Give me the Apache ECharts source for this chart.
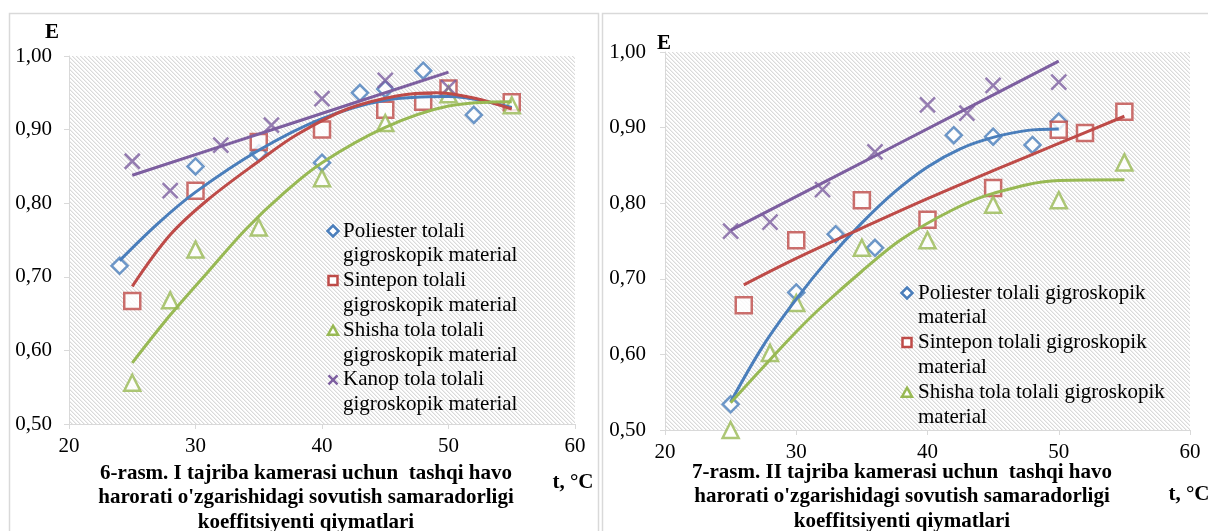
<!DOCTYPE html>
<html>
<head>
<meta charset="utf-8">
<script src="https://cdn.jsdelivr.net/npm/echarts@6/dist/echarts.min.js"></script>
<style>
  html, body { margin: 0; padding: 0; background: #ffffff; }
  #chart { width: 1208px; height: 531px; }
</style>
</head>
<body>
<div id="chart"></div>
<script>
// ---- Axis ticks ----
const xTicks = [20, 30, 40, 50, 60];
const yTicks = [0.5, 0.6, 0.7, 0.8, 0.9, 1.0];

// ---- Series names ----
const namePoliester = 'Poliester tolali gigroskopik material';
const nameSintepon = 'Sintepon tolali gigroskopik material';
const nameShisha = 'Shisha tola tolali gigroskopik material';
const nameKanop = 'Kanop tola tolali gigroskopik material';

// ---- Chamber I: measured points (t, °C / E) ----
const tPoliesterI = [24, 30, 35, 40, 43, 45, 48, 52];
const ePoliesterI = [0.715, 0.850, 0.868, 0.855, 0.950, 0.955, 0.980, 0.920];
const tSinteponI = [25, 30, 35, 40, 45, 48, 50, 55];
const eSinteponI = [0.667, 0.817, 0.883, 0.900, 0.927, 0.938, 0.956, 0.937];
const tShishaI = [25, 28, 30, 35, 40, 45, 50, 55];
const eShishaI = [0.556, 0.668, 0.737, 0.767, 0.834, 0.909, 0.948, 0.933];
const tKanopI = [25, 28, 32, 36, 40, 45, 50];
const eKanopI = [0.857, 0.817, 0.879, 0.906, 0.942, 0.967, 0.957];

// ---- Chamber I: trend curves ----
const tTrendPoliesterI = [24, 27, 30, 35, 40, 45, 50, 55];
const eTrendPoliesterI = [0.722, 0.772, 0.815, 0.872, 0.915, 0.940, 0.945, 0.930];
const tTrendSinteponI = [25, 28, 31, 35, 38, 42, 46, 49, 52, 55];
const eTrendSinteponI = [0.687, 0.757, 0.805, 0.857, 0.893, 0.928, 0.946, 0.950, 0.943, 0.928];
const tTrendShishaI = [25, 28, 31, 34, 37, 40, 45, 50, 55];
const eTrendShishaI = [0.583, 0.648, 0.707, 0.765, 0.814, 0.855, 0.903, 0.932, 0.938];
const tTrendKanopI = [25, 37.5, 50];
const eTrendKanopI = [0.838, 0.908, 0.978];

// ---- Chamber II: measured points ----
const tPoliesterII = [25, 30, 33, 36, 42, 45, 48, 50];
const ePoliesterII = [0.534, 0.682, 0.759, 0.741, 0.890, 0.888, 0.877, 0.908];
const tSinteponII = [26, 30, 35, 40, 45, 50, 52, 55];
const eSinteponII = [0.665, 0.751, 0.804, 0.778, 0.820, 0.897, 0.893, 0.921];
const tShishaII = [25, 28, 30, 35, 40, 45, 50, 55];
const eShishaII = [0.500, 0.602, 0.668, 0.741, 0.751, 0.798, 0.804, 0.854];
const tKanopII = [25, 28, 32, 36, 40, 43, 45, 50];
const eKanopII = [0.763, 0.775, 0.818, 0.868, 0.930, 0.919, 0.956, 0.960];

// ---- Chamber II: trend curves ----
const tTrendPoliesterII = [25, 27.5, 30, 32.5, 35, 37.5, 40, 42.5, 45, 47.5, 50];
const eTrendPoliesterII = [0.537, 0.612, 0.673, 0.727, 0.774, 0.815, 0.848, 0.872, 0.887, 0.896, 0.898];
const tTrendSinteponII = [26, 30, 35, 40, 45, 50, 55];
const eTrendSinteponII = [0.692, 0.727, 0.767, 0.806, 0.843, 0.879, 0.915];
const tTrendShishaII = [25, 28, 30, 32, 35, 38, 42, 45, 50, 55];
const eTrendShishaII = [0.536, 0.593, 0.630, 0.664, 0.710, 0.752, 0.792, 0.813, 0.830, 0.831];
const tTrendKanopII = [25, 37.5, 50];
const eTrendKanopII = [0.764, 0.876, 0.988];

// ---- Captions ----
const captionI = '6-rasm. I tajriba kamerasi uchun  tashqi havo\nharorati o\'zgarishidagi sovutish samaradorligi\nkoeffitsiyenti qiymatlari';
const captionII = '7-rasm. II tajriba kamerasi uchun  tashqi havo\nharorati o\'zgarishidagi sovutish samaradorligi\nkoeffitsiyenti qiymatlari';

// ---- Styling ----
const FONT = 'Liberation Serif';
const C_BLUE = '#4A7EBB';
const C_RED = '#BE4B48';
const C_GREEN = '#98B954';
const C_PURPLE = '#7D5FA0';
const C_AXIS = '#d9d9d9';
const SYM_X = 'path://M0,0L10,10M10,0L0,10';

// Hatched plot-area fill
function hatchPattern() {
  const c = document.createElement('canvas');
  c.width = 4; c.height = 4;
  const g = c.getContext('2d');
  g.fillStyle = '#ffffff';
  g.fillRect(0, 0, 4, 4);
  for (let i = 0; i < 4; i++) {
    g.fillStyle = '#dadada';
    g.fillRect(i, i, 1, 1);
    g.fillStyle = '#efefef';
    g.fillRect((i + 1) % 4, i, 1, 1);
  }
  return { image: c, repeat: 'repeat' };
}
const hatch = hatchPattern();

function pairs(xs, ys) { return xs.map((x, i) => [x, ys[i]]); }

function points(name, xs, ys, idx, symbol, color) {
  const isX = symbol === SYM_X;
  return {
    type: 'scatter', name: name, xAxisIndex: idx, yAxisIndex: idx,
    symbol: symbol, symbolSize: isX ? 15 : 16,
    data: pairs(xs, ys),
    itemStyle: { color: isX ? 'rgba(0,0,0,0)' : '#ffffff', borderColor: color, borderWidth: 2.5 },
    silent: true, z: 3
  };
}

function trend(name, xs, ys, idx, color) {
  return {
    type: 'line', name: name + ' trend', xAxisIndex: idx, yAxisIndex: idx,
    smooth: 0.35, showSymbol: false, symbol: 'none',
    data: pairs(xs, ys),
    lineStyle: { color: color, width: 3 },
    silent: true, z: 4
  };
}

function xAxisCfg(idx) {
  return {
    type: 'value', gridIndex: idx, min: xTicks[0], max: xTicks[xTicks.length - 1], interval: 10,
    axisLine: { show: true, onZero: false, lineStyle: { color: C_AXIS, width: 1 } },
    axisTick: { show: true, length: 5, lineStyle: { color: C_AXIS } },
    splitLine: { show: false },
    axisLabel: { fontFamily: FONT, fontSize: 21, color: '#000', margin: 12 }
  };
}
function yAxisCfg(idx, margin) {
  return {
    type: 'value', gridIndex: idx, min: yTicks[0], max: yTicks[yTicks.length - 1], interval: 0.1,
    axisLine: { show: true, onZero: false, lineStyle: { color: C_AXIS, width: 1 } },
    axisTick: { show: true, length: 5, lineStyle: { color: C_AXIS } },
    splitLine: { show: false },
    axisLabel: {
      fontFamily: FONT, fontSize: 21, color: '#000', margin: margin,
      formatter: v => v.toFixed(2).replace('.', ',')
    }
  };
}

// Legend entries (icon + wrapped label)
function legendIcon(kind, cx, cy, color) {
  const s = 9;
  const style = { fill: '#ffffff', stroke: color, lineWidth: 2.5 };
  if (kind === 'diamond') {
    return { type: 'polygon', shape: { points: [[cx, cy - s / 2 - 1], [cx + s / 2 + 1, cy], [cx, cy + s / 2 + 1], [cx - s / 2 - 1, cy]] }, style };
  }
  if (kind === 'rect') {
    return { type: 'rect', shape: { x: cx - s / 2, y: cy - s / 2, width: s, height: s }, style };
  }
  if (kind === 'triangle') {
    return { type: 'polygon', shape: { points: [[cx, cy - s / 2], [cx + s / 2 + 0.5, cy + s / 2], [cx - s / 2 - 0.5, cy + s / 2]] }, style };
  }
  return {
    type: 'group', children: [
      { type: 'line', shape: { x1: cx - s / 2, y1: cy - s / 2, x2: cx + s / 2, y2: cy + s / 2 }, style: { stroke: color, lineWidth: 2.5 } },
      { type: 'line', shape: { x1: cx + s / 2, y1: cy - s / 2, x2: cx - s / 2, y2: cy + s / 2 }, style: { stroke: color, lineWidth: 2.5 } }
    ]
  };
}
function legendBlock(entries, iconX, textX, firstY, step) {
  const out = [];
  entries.forEach((e, i) => {
    const cy = firstY + i * step;
    out.push(legendIcon(e.kind, iconX, cy, e.color));
    out.push({
      type: 'text', x: textX, y: cy - 12.4,
      style: { text: e.text, fontFamily: FONT, fontSize: 21, fill: '#000', lineHeight: 24.8, verticalAlign: 'top' }
    });
  });
  return out;
}

const legendI = legendBlock([
  { kind: 'diamond', color: C_BLUE, text: 'Poliester tolali\ngigroskopik material' },
  { kind: 'rect', color: C_RED, text: 'Sintepon tolali\ngigroskopik material' },
  { kind: 'triangle', color: C_GREEN, text: 'Shisha tola tolali\ngigroskopik material' },
  { kind: 'x', color: C_PURPLE, text: 'Kanop tola tolali\ngigroskopik material' }
], 333, 343, 231, 49.6);

const legendII = legendBlock([
  { kind: 'diamond', color: C_BLUE, text: 'Poliester tolali gigroskopik\nmaterial' },
  { kind: 'rect', color: C_RED, text: 'Sintepon tolali gigroskopik\nmaterial' },
  { kind: 'triangle', color: C_GREEN, text: 'Shisha tola tolali gigroskopik\nmaterial' }
], 907, 918, 293, 49.6);

function boldText(text, x, y, align, vAlign) {
  return {
    type: 'text', x: x, y: y, z: 10,
    style: {
      text: text, fontFamily: FONT, fontSize: 21, fontWeight: 'bold', fill: '#000',
      align: align || 'left', verticalAlign: vAlign || 'middle', lineHeight: 24.5
    }
  };
}

const chart = echarts.init(document.getElementById('chart'), null, { renderer: 'canvas' });
chart.setOption({
  animation: false,
  backgroundColor: '#ffffff',
  grid: [
    { left: 69, top: 56, width: 506, height: 368, show: true, backgroundColor: hatch, borderWidth: 0 },
    { left: 665, top: 52, width: 525, height: 378, show: true, backgroundColor: hatch, borderWidth: 0 }
  ],
  xAxis: [xAxisCfg(0), xAxisCfg(1)],
  yAxis: [yAxisCfg(0, 17), yAxisCfg(1, 19)],
  series: [
    points(namePoliester, tPoliesterI, ePoliesterI, 0, 'diamond', C_BLUE),
    points(nameSintepon, tSinteponI, eSinteponI, 0, 'rect', C_RED),
    points(nameShisha, tShishaI, eShishaI, 0, 'triangle', C_GREEN),
    points(nameKanop, tKanopI, eKanopI, 0, SYM_X, C_PURPLE),
    trend(namePoliester, tTrendPoliesterI, eTrendPoliesterI, 0, C_BLUE),
    trend(nameSintepon, tTrendSinteponI, eTrendSinteponI, 0, C_RED),
    trend(nameShisha, tTrendShishaI, eTrendShishaI, 0, C_GREEN),
    trend(nameKanop, tTrendKanopI, eTrendKanopI, 0, C_PURPLE),

    points(namePoliester, tPoliesterII, ePoliesterII, 1, 'diamond', C_BLUE),
    points(nameSintepon, tSinteponII, eSinteponII, 1, 'rect', C_RED),
    points(nameShisha, tShishaII, eShishaII, 1, 'triangle', C_GREEN),
    points(nameKanop, tKanopII, eKanopII, 1, SYM_X, C_PURPLE),
    trend(namePoliester, tTrendPoliesterII, eTrendPoliesterII, 1, C_BLUE),
    trend(nameSintepon, tTrendSinteponII, eTrendSinteponII, 1, C_RED),
    trend(nameShisha, tTrendShishaII, eTrendShishaII, 1, C_GREEN),
    trend(nameKanop, tTrendKanopII, eTrendKanopII, 1, C_PURPLE)
  ],
  graphic: [
    // panel frames
    { type: 'rect', z: -10, shape: { x: 9.5, y: 13.5, width: 589, height: 540 }, style: { fill: 'none', stroke: '#d9d9d9', lineWidth: 1.5 } },
    { type: 'rect', z: -10, shape: { x: 602.5, y: 13.5, width: 640, height: 540 }, style: { fill: 'none', stroke: '#d9d9d9', lineWidth: 1.5 } },
    // axis titles
    boldText('E', 52, 33, 'center'),
    boldText('t, °C', 573, 483, 'center'),
    boldText('E', 664, 44, 'center'),
    boldText('t, °C', 1189, 495, 'center'),
    // captions
    boldText(captionI, 306, 461, 'center', 'top'),
    boldText(captionII, 902, 460, 'center', 'top')
  ].concat(legendI, legendII)
});
</script>
</body>
</html>
